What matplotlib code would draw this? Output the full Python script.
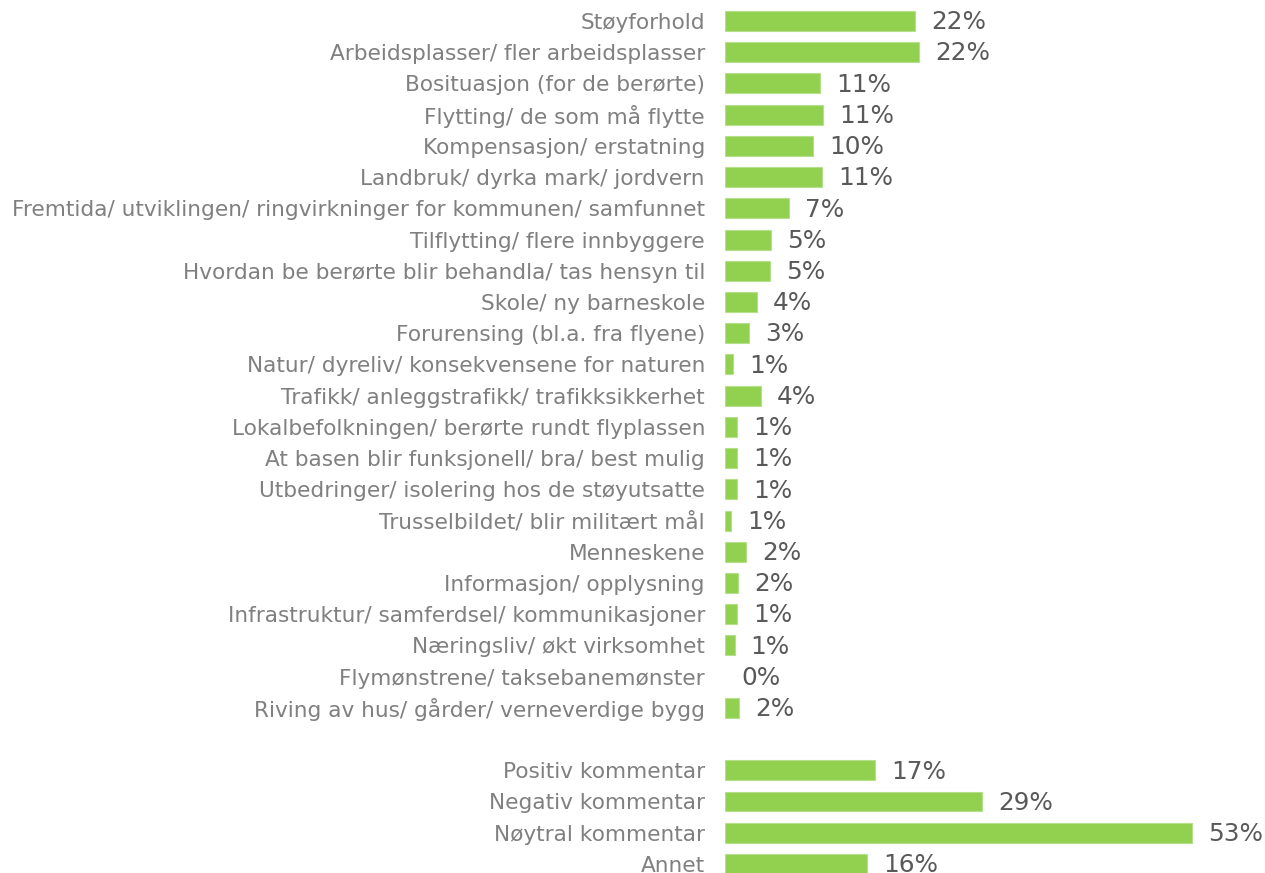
import matplotlib
matplotlib.use("Agg")
import matplotlib.pyplot as plt

categories = [
    "Støyforhold",
    "Arbeidsplasser/ fler arbeidsplasser",
    "Bosituasjon (for de berørte)",
    "Flytting/ de som må flytte",
    "Kompensasjon/ erstatning",
    "Landbruk/ dyrka mark/ jordvern",
    "Fremtida/ utviklingen/ ringvirkninger for kommunen/ samfunnet",
    "Tilflytting/ flere innbyggere",
    "Hvordan be berørte blir behandla/ tas hensyn til",
    "Skole/ ny barneskole",
    "Forurensing (bl.a. fra flyene)",
    "Natur/ dyreliv/ konsekvensene for naturen",
    "Trafikk/ anleggstrafikk/ trafikksikkerhet",
    "Lokalbefolkningen/ berørte rundt flyplassen",
    "At basen blir funksjonell/ bra/ best mulig",
    "Utbedringer/ isolering hos de støyutsatte",
    "Trusselbildet/ blir militært mål",
    "Menneskene",
    "Informasjon/ opplysning",
    "Infrastruktur/ samferdsel/ kommunikasjoner",
    "Næringsliv/ økt virksomhet",
    "Flymønstrene/ taksebanemønster",
    "Riving av hus/ gårder/ verneverdige bygg",
]
values = [21.6, 22.0, 10.8, 11.1, 10.0, 11.0, 7.3, 5.2, 5.1, 3.6, 2.7, 0.9, 4.1,
          1.4, 1.4, 1.4, 0.7, 2.4, 1.5, 1.4, 1.1, 0.0, 1.6]
labels = ["22%", "22%", "11%", "11%", "10%", "11%", "7%", "5%", "5%", "4%", "3%", "1%", "4%",
          "1%", "1%", "1%", "1%", "2%", "2%", "1%", "1%", "0%", "2%"]

summary_categories = ["Positiv kommentar", "Negativ kommentar", "Nøytral kommentar", "Annet"]
summary_values = [17.0, 29.2, 53.0, 16.1]
summary_labels = ["17%", "29%", "53%", "16%"]

W, H = 1265, 873
fig = plt.figure(figsize=(W / 100, H / 100), dpi=100)
px_per_unit = 8.81
x0 = 725
ax_w = 535
ax = fig.add_axes([x0 / W, 0, ax_w / W, 1])
ax.set_xlim(0, ax_w / px_per_unit)

row_px = 31.22
top_row_px = 21
ax.set_ylim((H - top_row_px) / row_px, -top_row_px / row_px)

all_cats = categories + summary_categories
all_vals = values + summary_values
all_labs = labels + summary_labels
positions = list(range(len(categories))) + [len(categories) + 1 + i for i in range(len(summary_categories))]

green = "#92D050"
lws = [0.8 if v > 0 else 0 for v in all_vals]
ax.barh(positions, all_vals, height=0.64, color=green, edgecolor="#b5e08a", linewidth=lws)

offset = 16 / px_per_unit
for p, v, lab in zip(positions, all_vals, all_labs):
    ax.text(v + offset, p + 0.04, lab, va="center", ha="left", fontsize=17.8, color="#595959")

ax.set_yticks(positions)
ax.set_yticklabels(all_cats, fontsize=15.6, color="#808080")
ax.tick_params(axis="y", length=0, pad=14.4)
ax.set_xticks([])
for s in ax.spines.values():
    s.set_visible(False)

fig.savefig("out.png", dpi=100)
